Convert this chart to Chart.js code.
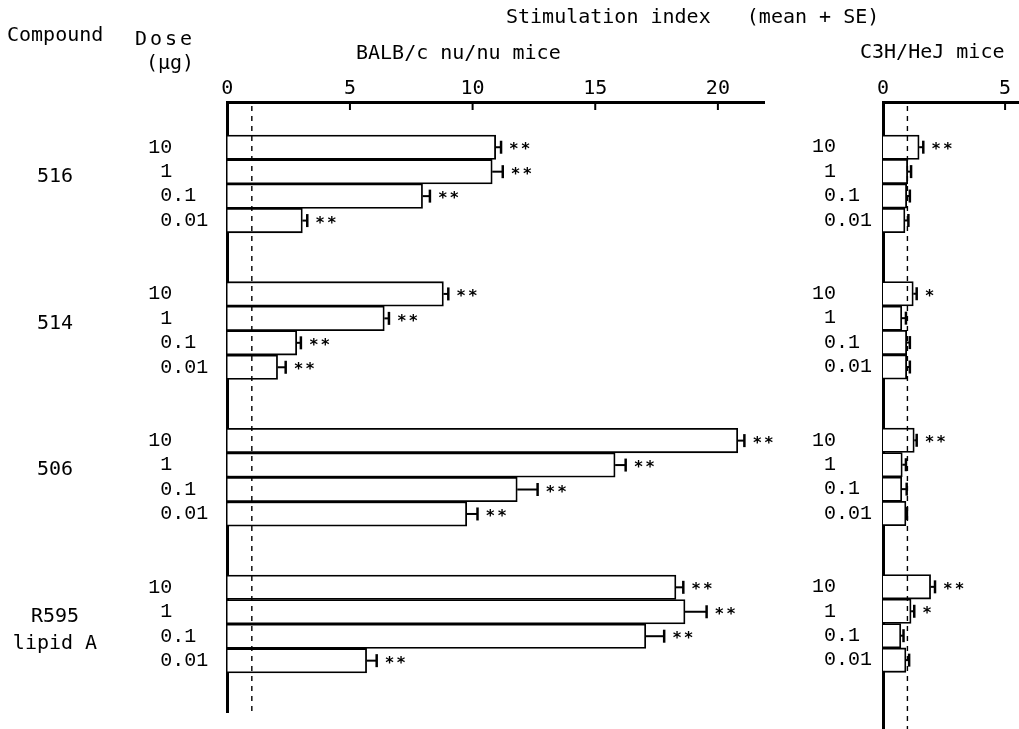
<!DOCTYPE html>
<html>
<head>
<meta charset="utf-8">
<script src="https://cdn.jsdelivr.net/npm/chart.js@4.4.1/dist/chart.umd.min.js"></script>
<style>
  html, body { margin: 0; padding: 0; background: #fff; }
  #wrap { position: relative; width: 1019px; height: 729px; overflow: hidden; }
  #left { position: absolute; left: 0; top: 0; }
  #right { position: absolute; left: 790px; top: 0; }
</style>
</head>
<body>
<div id="wrap">
  <canvas id="left" width="1019" height="729"></canvas>
  <canvas id="right" width="229" height="729"></canvas>
</div>
<script>
// Compuestos y dosis (µg)
const compuestos = [['516'], ['514'], ['506'], ['R595', 'lipid A']];
const dosis = ['10', '1', '0.1', '0.01'];

// BALB/c nu/nu: media y SE del índice, orden compuesto x dosis
const balbMedia = [10.94, 10.80, 7.96, 3.06,  8.81, 6.40, 2.83, 2.05,  20.81, 15.81, 11.82, 9.76,  18.29, 18.66, 17.06, 5.68];
const balbSE    = [0.22, 0.43, 0.30, 0.20,    0.20, 0.19, 0.17, 0.33,  0.27, 0.43, 0.83, 0.44,     0.30, 0.88, 0.75, 0.41];
const balbSig   = ['**', '**', '**', '**',  '**', '**', '**', '**',  '**', '**', '**', '**',  '**', '**', '**', '**'];

// C3H/HeJ
const c3hMedia = [1.48, 1.01, 0.97, 0.90,  1.24, 0.77, 0.97, 0.97,  1.28, 0.79, 0.77, 0.94,  1.95, 1.15, 0.73, 0.94];
const c3hSE    = [0.17, 0.14, 0.13, 0.14,  0.14, 0.17, 0.13, 0.13,  0.10, 0.15, 0.20, 0.04,  0.18, 0.13, 0.11, 0.13];
const c3hSig   = ['**', '', '', '',  '*', '', '', '',  '**', '', '', '',  '**', '*', '', ''];

const ticksBalb = [0, 5, 10, 15, 20];
const ticksC3h = [0, 5];
const lineaBase = 1; // índice = 1 (línea punteada)

const FUENTE = 'DejaVu Sans Mono';
const FUENTE_DOSIS = 'Liberation Mono';
const NEGRO = '#000';

// posición de cada barra: 4 dosis + 2 huecos por compuesto
const filas = balbMedia.map((_, i) => Math.floor(i / dosis.length) * 6 + (i % dosis.length));

// etiqueta de dosis alineada por el punto decimal
function etiquetaDosis(d) {
    const frac = d.includes('.') ? d.length - d.indexOf('.') : 0;
    return d + ' '.repeat(3 - frac);
}

const barrasError = {
    id: 'barrasError',
    afterDatasetsDraw(chart, args, opts) {
        const { ctx, chartArea, scales: { x, y } } = chart;
        const meta = chart.getDatasetMeta(0);
        ctx.save();

        // línea punteada en índice 1
        const xb = x.getPixelForValue(lineaBase);
        ctx.strokeStyle = NEGRO;
        ctx.lineWidth = 1.4;
        ctx.setLineDash([5, 5]);
        ctx.beginPath();
        ctx.moveTo(xb, chartArea.top + 4);
        ctx.lineTo(xb, chartArea.bottom);
        ctx.stroke();
        ctx.setLineDash([]);

        // marcas de escala hacia dentro
        ctx.lineWidth = 2;
        x.ticks.forEach(t => {
            if (t.value === 0) return;
            const px = x.getPixelForValue(t.value);
            ctx.beginPath();
            ctx.moveTo(px, chartArea.top);
            ctx.lineTo(px, chartArea.top + 8);
            ctx.stroke();
        });

        meta.data.forEach((bar, i) => {
            const x0 = x.getPixelForValue(opts.media[i]);
            const x1 = x.getPixelForValue(opts.media[i] + opts.se[i]);
            const yc = bar.y;
            ctx.lineWidth = 2;
            ctx.beginPath();
            ctx.moveTo(x0, yc);
            ctx.lineTo(x1, yc);
            ctx.stroke();
            ctx.lineWidth = 2.5;
            ctx.beginPath();
            ctx.moveTo(x1, yc - 6.5);
            ctx.lineTo(x1, yc + 6.5);
            ctx.stroke();
            if (opts.sig[i]) {
                ctx.fillStyle = NEGRO;
                ctx.font = `bold 16px ${FUENTE}`;
                ctx.letterSpacing = '2px';
                ctx.textAlign = 'left';
                ctx.textBaseline = 'middle';
                ctx.fillText(opts.sig[i], x1 + 8, yc + 3);
                ctx.letterSpacing = '0px';
            }
        });

        // etiquetas de dosis
        ctx.fillStyle = NEGRO;
        ctx.font = `20px ${FUENTE_DOSIS}`;
        ctx.textAlign = 'right';
        ctx.textBaseline = 'middle';
        filas.forEach((p, i) => {
            ctx.fillText(etiquetaDosis(dosis[i % dosis.length]), chartArea.left - opts.sepDosis, y.getPixelForValue(p));
        });
        ctx.restore();
    }
};

const textos = {
    id: 'textos',
    afterDraw(chart) {
        const { ctx, scales: { y } } = chart;
        ctx.save();
        ctx.fillStyle = NEGRO;
        ctx.textBaseline = 'middle';
        ctx.font = `20px ${FUENTE}`;
        ctx.textAlign = 'left';
        ctx.fillText('Compound', 7, 36);
        ctx.fillText('(μg)', 146, 64);
        ctx.fillText('Stimulation index   (mean + SE)', 506, 18);
        ctx.fillText('BALB/c nu/nu mice', 356, 54);
        ctx.fillText('C3H/HeJ mice', 860, 53);
        ctx.letterSpacing = '3px';
        ctx.fillText('Dose', 135, 40);
        ctx.letterSpacing = '0px';

        ctx.textAlign = 'center';
        compuestos.forEach((lineas, g) => {
            const y0 = y.getPixelForValue(g * 6 + 1) + 5;
            lineas.forEach((t, k) => ctx.fillText(t, 55, y0 + k * 27));
        });
        ctx.restore();
    }
};

function crearPanel(canvasId, media, se, sig, ticksX, maxX, anchoEje, padDerecha, padAbajo, maxY, sepDosis, extras) {
    return new Chart(document.getElementById(canvasId), {
        type: 'bar',
        data: {
            datasets: [{
                data: media.map((v, i) => ({ x: v, y: filas[i] })),
                backgroundColor: '#fff',
                borderColor: NEGRO,
                borderWidth: 1.8,
                categoryPercentage: 1,
                barPercentage: 1
            }]
        },
        options: {
            indexAxis: 'y',
            responsive: false,
            animation: false,
            layout: { padding: { top: 0, left: 0, right: padDerecha, bottom: padAbajo } },
            plugins: {
                legend: { display: false },
                tooltip: { enabled: false },
                barrasError: { media, se, sig, sepDosis }
            },
            scales: {
                x: {
                    type: 'linear',
                    position: 'top',
                    min: 0,
                    max: maxX,
                    offset: false,
                    afterFit: (eje) => { eje.height = 102; },
                    afterBuildTicks: (eje) => { eje.ticks = ticksX.map(v => ({ value: v })); },
                    grid: { display: false, drawTicks: false },
                    border: { display: true, color: NEGRO, width: 3 },
                    ticks: {
                        color: NEGRO,
                        padding: 1,
                        font: { family: FUENTE, size: 20 },
                        callback: (v) => v
                    }
                },
                y: {
                    type: 'linear',
                    reverse: true,
                    min: -1.85,
                    max: maxY,
                    offset: false,
                    afterFit: (eje) => { eje.width = anchoEje; },
                    grid: { display: false, drawTicks: false, offset: false },
                    border: { display: true, color: NEGRO, width: 3 },
                    ticks: { display: false }
                }
            }
        },
        plugins: [barrasError].concat(extras)
    });
}

crearPanel('left', balbMedia, balbSE, balbSig, ticksBalb, 21.9, 227.3, 254.5, 17, 23.1, 19, [textos]);
crearPanel('right', c3hMedia, c3hSE, c3hSig, ticksC3h, 5.57, 93, 0, 0, 23.82, 11, []);
</script>
</body>
</html>
